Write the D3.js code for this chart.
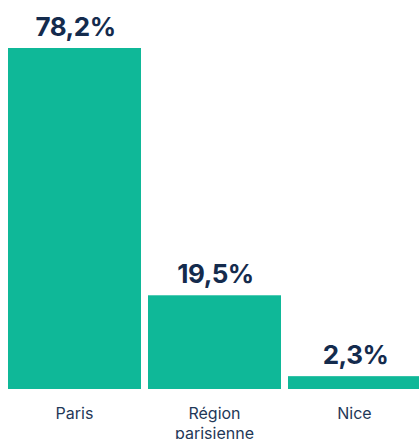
<!DOCTYPE html>
<html>
<head>
<meta charset="utf-8">
<script src="https://cdn.jsdelivr.net/npm/d3@7"></script>
<style>
  html, body { margin: 0; padding: 0; background: #fff; overflow: hidden; }
  svg { display: block; }
  .bar { fill: #0fb898; }
  .value { font-family: Inter, sans-serif; font-weight: 700; font-size: 26px; letter-spacing: -0.5px; fill: #142b4d; }
  .cat { font-family: Inter, sans-serif; font-size: 16px; fill: #1f3858; }
</style>
</head>
<body>
<script>
const width = 419
const height = 439

const categories = [['Paris'], ['Région', 'parisienne'], ['Nice']]
const values = [78.2, 19.5, 2.3]
const valueLabels = ['78,2%', '19,5%', '2,3%']

const svg = d3.select('body')
    .append('svg')
    .attr('width', width)
    .attr('height', height)

const x = d3.scaleBand()
    .domain(d3.range(values.length))
    .range([8, 421])
    .paddingInner(0.05)
    .paddingOuter(0)

const y = d3.scalePow()
    .exponent(0.93)
    .domain([0, d3.max(values)])
    .range([389, 48])

svg.selectAll('rect.bar')
    .data(values)
    .enter()
    .append('rect')
    .attr('class', 'bar')
    .attr('x', (d, i) => x(i))
    .attr('y', d => y(d))
    .attr('width', x.bandwidth())
    .attr('height', d => y(0) - y(d))

svg.selectAll('text.value')
    .data(values)
    .enter()
    .append('text')
    .attr('class', 'value')
    .attr('text-anchor', 'middle')
    .attr('x', (d, i) => x(i) + x.bandwidth() / 2 + 1)
    .attr('y', d => y(d) - 12)
    .text((d, i) => valueLabels[i])

const cats = svg.selectAll('text.cat')
    .data(categories)
    .enter()
    .append('text')
    .attr('class', 'cat')
    .attr('text-anchor', 'middle')
    .attr('y', 419)

cats.selectAll('tspan')
    .data((d, i) => d.map(t => ({t, i})))
    .enter()
    .append('tspan')
    .attr('x', d => x(d.i) + x.bandwidth() / 2)
    .attr('dy', (d, j) => j === 0 ? 0 : 19.5)
    .text(d => d.t)
</script>
</body>
</html>
